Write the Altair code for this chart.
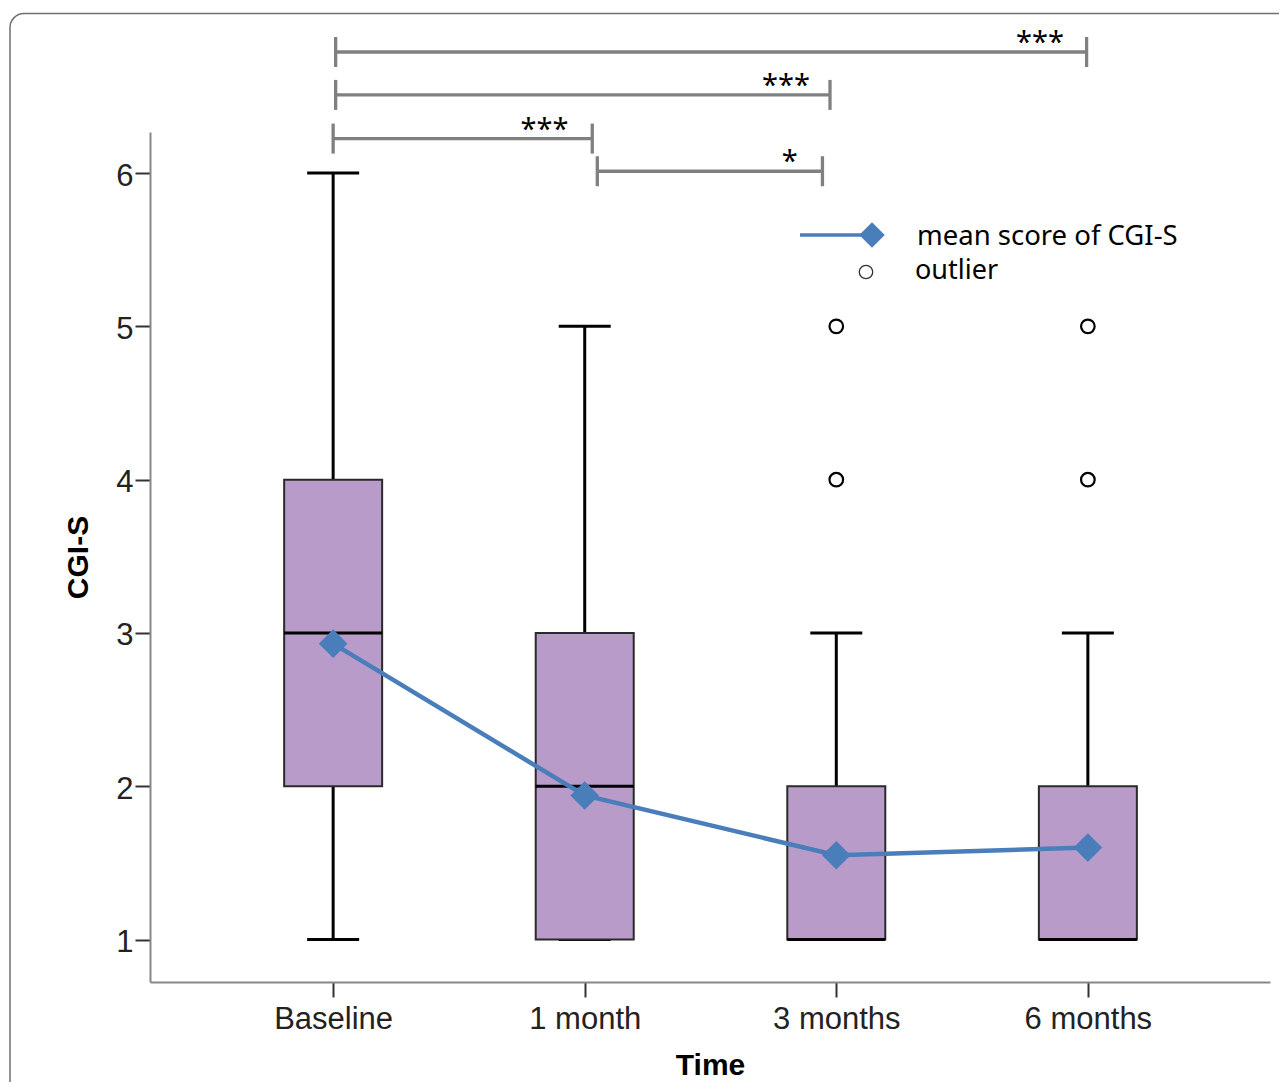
import json
import altair as alt
import pandas as pd

# ---------------- data ----------------
times = ["Baseline", "1 month", "3 months", "6 months"]
whisker_low = [1, 1, 1, 1]
q1 = [2, 1, 1, 1]
median = [3, 2, 1, 1]
q3 = [4, 3, 2, 2]
whisker_high = [6, 5, 3, 3]
means = [2.93, 1.94, 1.55, 1.60]

outlier_time = ["3 months", "3 months", "6 months", "6 months"]
outlier_value = [4, 5, 4, 5]

# significance brackets (positions read in category units / CGI-S units)
br_start = [0.01, 0.01, 0.0, 1.05]
br_end = [2.995, 1.975, 1.03, 1.945]
br_level = [6.79, 6.51, 6.225, 6.012]
br_label = ["***", "***", "***", "*"]
br_label_x = [2.81, 1.80, 0.84, 1.815]

legend_labels = ["mean score of CGI-S", "outlier"]

# ---------------- frames ----------------
box_df = pd.DataFrame({
    "time": times,
    "pos": list(range(len(times))),
    "low": whisker_low,
    "q1": q1,
    "median": median,
    "q3": q3,
    "high": whisker_high,
    "mean": means,
})
out_df = pd.DataFrame({
    "pos": [times.index(t) for t in outlier_time],
    "value": outlier_value,
})
br_df = pd.DataFrame({
    "x1": br_start, "x2": br_end, "y": br_level,
    "label": br_label, "lx": br_label_x,
})
ends_df = pd.DataFrame({
    "x": br_start + br_end,
    "y": br_level + br_level,
})
one = pd.DataFrame({"k": [0]})

BLUE = "#4a7ebb"
GRAY = "#808080"
FILL = "#b89bc9"

x_axis = alt.Axis(
    values=[0, 1, 2, 3],
    labelExpr=json.dumps(times) + "[datum.value]",
    title="Time", grid=False, labelPadding=7,
    titleX=560, titleY=92, titleBaseline="alphabetic", titleAlign="center",
)
y_axis = alt.Axis(
    values=[1, 2, 3, 4, 5, 6], format="d", title="CGI-S", grid=False,
    labelPadding=2, labelOffset=3,
    titleX=-72, titleY=425, titleAngle=270, titleBaseline="middle",
    titleAlign="center",
)
x_scale = alt.Scale(domain=[-0.728, 3.724], nice=False, zero=False, padding=0)
y_scale = alt.Scale(domain=[0.723, 6.268], nice=False, zero=False, padding=0)


def X(field):
    return alt.X(f"{field}:Q", scale=x_scale, axis=x_axis)


def Y(field):
    return alt.Y(f"{field}:Q", scale=y_scale, axis=y_axis)


frame = alt.Chart(one).mark_rect(
    fillOpacity=0, stroke="#707070", strokeWidth=1.5, cornerRadius=14
).encode(x=alt.value(-140), x2=alt.value(1300),
         y=alt.value(-118.5), y2=alt.value(1100))

base = alt.Chart(box_df)

whisk = base.mark_rule(color="black", strokeWidth=3).encode(
    x=X("pos"), y=Y("low"), y2="high")
cap_low = base.mark_tick(orient="horizontal", size=52, thickness=3,
                         color="black", opacity=1).encode(x=X("pos"), y=Y("low"))
cap_high = base.mark_tick(orient="horizontal", size=52, thickness=3,
                          color="black", opacity=1).encode(x=X("pos"), y=Y("high"))
box = base.mark_bar(size=98, fill=FILL, stroke="#2a2a2a", strokeWidth=2,
                    opacity=1).encode(x=X("pos"), y=Y("q1"), y2="q3")
med = base.mark_tick(orient="horizontal", size=98, thickness=3,
                     color="black", opacity=1).encode(x=X("pos"), y=Y("median"))

mean_line = base.mark_line(color=BLUE, strokeWidth=4.5).encode(
    x=X("pos"), y=Y("mean"))
mean_pts = base.mark_point(shape="diamond", filled=True, size=820,
                           color=BLUE, opacity=1).encode(x=X("pos"), y=Y("mean"))

outliers = alt.Chart(out_df).mark_point(
    shape="circle", filled=False, size=185, color="black",
    strokeWidth=2.2, opacity=1).encode(x=X("pos"), y=Y("value"))

br_rule = alt.Chart(br_df).mark_rule(color=GRAY, strokeWidth=3.3).encode(
    x=X("x1"), x2="x2", y=Y("y"))
br_ends = alt.Chart(ends_df).mark_tick(
    orient="vertical", size=30, thickness=3.3, color=GRAY, opacity=1).encode(
    x=X("x"), y=Y("y"))
br_text = alt.Chart(br_df).mark_text(
    font="Noto Sans", fontSize=29, color="black", baseline="alphabetic",
    align="center", dy=0).encode(x=X("lx"), y=Y("y"), text="label:N")

leg_line = alt.Chart(one).mark_rule(color=BLUE, strokeWidth=3.5).encode(
    x=alt.value(650), x2=alt.value(720), y=alt.value(103))
leg_diam = alt.Chart(one).mark_point(shape="diamond", filled=True, size=650,
                                     color=BLUE, opacity=1).encode(
    x=alt.value(722), y=alt.value(103))
leg_t1 = alt.Chart(one).mark_text(
    align="left", baseline="middle", font="Noto Sans", fontSize=27.5,
    color="black").encode(x=alt.value(767), y=alt.value(104.5),
                          text=alt.value(legend_labels[0]))
leg_circ = alt.Chart(one).mark_point(shape="circle", filled=False, size=180,
                                     color="#333333", strokeWidth=1.3,
                                     opacity=1).encode(
    x=alt.value(716), y=alt.value(140))
leg_t2 = alt.Chart(one).mark_text(
    align="left", baseline="middle", font="Noto Sans", fontSize=27,
    color="black").encode(x=alt.value(765), y=alt.value(138.5),
                          text=alt.value(legend_labels[1]))

chart = alt.layer(
    frame, whisk, cap_low, cap_high, box, med, mean_line, mean_pts, outliers,
    br_rule, br_ends, br_text, leg_line, leg_diam, leg_t1, leg_circ, leg_t2,
).properties(
    width=1120, height=850,
    padding={"left": 142, "top": 124, "right": 9, "bottom": 100},
    autosize=alt.AutoSizeParams(type="none"),
    background="white",
).configure_view(strokeWidth=0).configure_axis(
    domainColor="#888888", domainWidth=2, tickColor="#333333", tickWidth=2,
    tickSize=15, labelFont="Liberation Sans", labelFontSize=31,
    labelColor="#222222", titleFont="Liberation Sans", titleFontSize=30,
    titleFontWeight="bold", titleColor="black",
)

chart.save("out.html", embed_options={"renderer": "svg", "actions": False})
